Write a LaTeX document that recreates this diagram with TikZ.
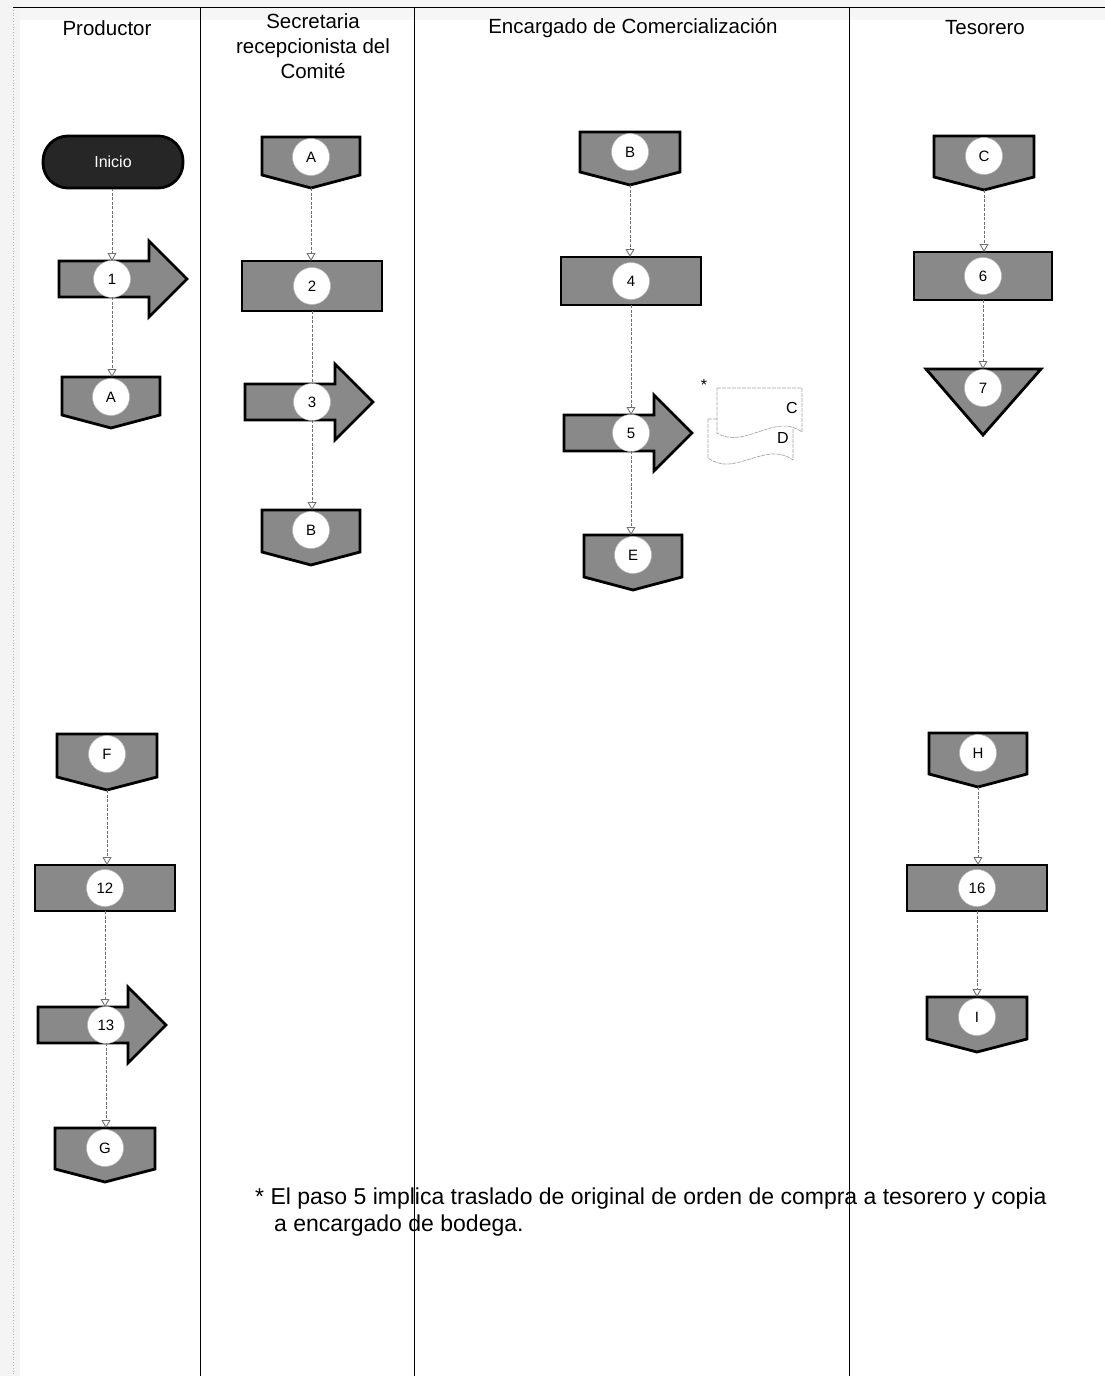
\documentclass[tikz,border=0pt]{standalone}
\usepackage{fontspec}
\setmainfont{Liberation Sans}
\usetikzlibrary{arrows.meta}
\definecolor{shapegray}{HTML}{898989}
\definecolor{startgray}{HTML}{262626}
\definecolor{connc}{HTML}{707070}

\newcommand\offpg[6]{% name, cx, ytop, ybot, halfwidth, label
  \draw[shp] (#2-#5,#3) -- (#2+#5,#3) -- (#2+#5,#4-13) -- (#2,#4) -- (#2-#5,#4-13) -- cycle;
  \node[frame, minimum width={2*#5*1pt}, minimum height={(#4-#3)*1pt}] (#1) at (#2,{(#3+#4)/2}) {};
  \node[circ] (#1c) at (#2,#3+20) {#6};
}
\newcommand\procbox[6]{% name, cx, cy, halfw, halfh, label
  \draw[shp] (#2-#4,#3-#5) rectangle (#2+#4,#3+#5);
  \node[frame, minimum width={2*#4*1pt}, minimum height={2*#5*1pt}] (#1) at (#2,#3) {};
  \node[circ] (#1c) at (#2,#3) {#6};
}
\newcommand\bigarrow[5]{% name, body left x, cy, circle x, label
  \draw[shp] (#2,#3-18) -- (#2+90,#3-18) -- (#2+90,#3-38) -- (#2+128,#3) -- (#2+90,#3+38) -- (#2+90,#3+18) -- (#2,#3+18) -- cycle;
  \node[frame, minimum width=10pt, minimum height=36pt] (#1) at (#4,#3) {};
  \node[circ] (#1c) at (#4,#3) {#5};
}

\begin{document}
\begin{tikzpicture}[x=1pt,y=-1pt,
  shp/.style={draw=black, line width=2.8pt, fill=shapegray, line join=miter},
  frame/.style={rectangle, inner sep=0pt, outer sep=0pt, draw=none},
  circ/.style={circle, fill=white, draw=gray!55, line width=0.5pt, minimum size=37pt, inner sep=0pt, font=\fontsize{15}{15}\selectfont},
  conn/.style={draw=connc, line width=0.7pt, dash pattern=on 3pt off 1.5pt},
  tip/.style={-{Triangle[open, width=9pt, length=8pt, line width=0.9pt]}},
  hdr/.style={inner sep=0pt, font=\fontsize{20.5}{25}\selectfont, align=center},
  doc/.style={draw=gray!70, line width=0.7pt, dash pattern=on 4pt off 1pt, fill=white},
  lane/.style={draw=black, line width=1pt}
]
\useasboundingbox (0,0) rectangle (1105,1376);
\fill[gray!9] (0,0) rectangle (20,1376);
\fill[gray!7] (20,0) rectangle (1105,20);
\draw[gray!55, line width=0.8pt, dotted] (13,7) -- (13,1376);
\draw[lane] (13,7) -- (1105,7);
\draw[lane] (200,7) -- (200,1376);
\draw[lane] (414,7) -- (414,1376);
\draw[lane] (849,7) -- (849,1376);

% headers
\node[hdr] (h1) at (107,28) {Productor};
\node[hdr] (h2) at (313,46) {Secretaria\\recepcionista del\\Comité};
\node[hdr] (h3) at (633,28) {Encargado de Comercialización};
\node[hdr] (h4) at (985,28) {Tesorero};

% Productor lane
\node[draw=black, line width=2.8pt, fill=startgray, rounded corners=25pt, minimum width=140pt, minimum height=52pt, text=white, font=\fontsize{16}{16}\selectfont] (ini) at (113,162) {Inicio};
\bigarrow{a1}{59}{279}{112}{1}
\offpg{pA}{111}{377}{428}{49}{A}
\offpg{pF}{107}{734}{790}{50}{F}
\procbox{p12}{105}{888}{70}{23}{12}
\bigarrow{a13}{38}{1025}{106}{13}
\offpg{pG}{105}{1128}{1182}{50}{G}

% Secretaria lane
\offpg{sA}{311}{137}{188}{49}{A}
\procbox{p2}{312}{286}{70}{25}{2}
\bigarrow{a3}{245}{402}{312}{3}
\offpg{sB}{311}{510}{565}{49}{B}

% Encargado lane
\offpg{eB}{630}{132}{185}{50}{B}
\procbox{p4}{631}{281}{70}{24}{4}
\bigarrow{a5}{564}{433}{631}{5}
\offpg{eE}{633}{535}{590}{49}{E}

% documents
\draw[doc] (708,419) -- (793,419) -- (793,460) .. controls (765,440) and (735,478) .. (708,458) -- cycle;
\draw[doc] (717,388) -- (802,388) -- (802,432) .. controls (775,412) and (745,450) .. (717,433) -- cycle;
\node[inner sep=0pt, font=\fontsize{16}{16}\selectfont] (dC) at (792,408) {C};
\node[inner sep=0pt, font=\fontsize{16}{16}\selectfont] (dD) at (783,438) {D};
\node[inner sep=0pt, font=\fontsize{16}{16}\selectfont] (ast) at (704,385) {*};

% Tesorero lane
\offpg{tC}{984}{136}{190}{50}{C}
\procbox{p6}{983}{276}{69}{24}{6}
\draw[shp] (926,369) -- (1041,369) -- (983,435) -- cycle;
\node[frame, minimum width=10pt, minimum height=66pt] (t7) at (983,402) {};
\node[circ] (t7c) at (983,388) {7};
\offpg{tH}{978}{733}{787}{49}{H}
\procbox{p16}{977}{888}{70}{23}{16}
\offpg{tI}{977}{997}{1052}{50}{I}

% connectors
\draw[conn,tip] (ini.south) -- (ini.south -| a1.north) -- (a1.north);
\draw[conn,tip] (a1.south) -- (a1.south |- pA.north);
\draw[conn,tip] (sA.south) -- (sA.south |- p2.north);
\draw[conn] (p2.south) -- (p2.south |- a3.north);
\draw[conn,tip] (a3.south) -- (a3.south |- sB.north);
\draw[conn,tip] (eB.south) -- (eB.south |- p4.north);
\draw[conn,tip] (p4.south) -- (p4.south |- a5.north);
\draw[conn,tip] (a5.south) -- (a5.south |- eE.north);
\draw[conn,tip] (tC.south) -- (tC.south |- p6.north);
\draw[conn,tip] (p6.south) -- (p6.south |- t7.north);
\draw[conn,tip] (pF.south) -- (pF.south |- p12.north);
\draw[conn,tip] (p12.south) -- (p12.south |- a13.north);
\draw[conn,tip] (a13.south) -- (a13.south |- pG.north);
\draw[conn,tip] (tH.south) -- (tH.south |- p16.north);
\draw[conn,tip] (p16.south) -- (p16.south |- tI.north);

% footnote
\node[anchor=base west, inner sep=0pt, font=\fontsize{23}{27}\selectfont] (fn1) at (255,1204) {* El paso 5 implica traslado de original de orden de compra a tesorero y copia};
\node[anchor=base west, inner sep=0pt, font=\fontsize{23}{27}\selectfont] (fn2) at (274,1231) {a encargado de bodega.};
\end{tikzpicture}
\end{document}
